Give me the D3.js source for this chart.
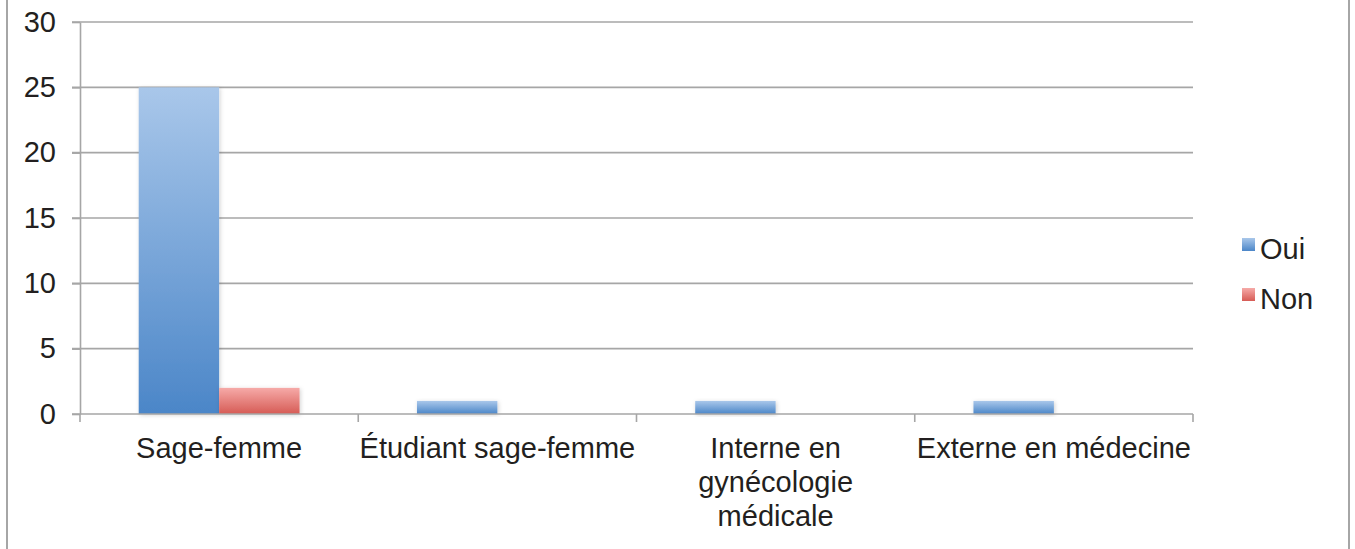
<!DOCTYPE html>
<html lang="fr">
<head>
  <meta charset="UTF-8">
  <title>Oui / Non par profession</title>
  <script src="https://d3js.org/d3.v7.min.js"></script>
  <style>
    body { margin: 0; background: #fff; }
    svg { font-family: "Liberation Sans", Arial, sans-serif; }
    .grid line { stroke: #a6a6a6; stroke-width: 1.6; }
    .axis path, .axis line { stroke: #a6a6a6; stroke-width: 1.6; }
    text { fill: #231f20; }
  </style>
</head>
<body>
  <svg width="1355" height="549"></svg>
  <script>
    const categories = ["Sage-femme", "Étudiant sage-femme", "Interne en\ngynécologie\nmédicale", "Externe en médecine"];
    const series = ["Oui", "Non"];
    const oui = [25, 1, 1, 1];
    const non = [2, 0, 0, 0];
    const yTicks = [0, 5, 10, 15, 20, 25, 30];

    const svg = d3.select("svg");
    const margin = { left: 80, right: 162, top: 22, bottom: 135 };
    const width = +svg.attr("width");
    const height = +svg.attr("height");
    const plotRight = width - margin.right;
    const plotBottom = height - margin.bottom;
    const fontSize = 29;

    const rows = categories.map((c, i) => ({ cat: c, values: [oui[i], non[i]] }));

    const x0 = d3.scaleBand().domain(categories).range([margin.left, plotRight]);
    const x1 = d3.scaleBand().domain(series).range([0, x0.bandwidth()]).paddingOuter(0.73);
    const y = d3.scaleLinear().domain([0, 30]).range([plotBottom, margin.top]);

    // frame side lines
    svg.append("line").attr("x1", 7).attr("x2", 7).attr("y1", 0).attr("y2", height)
      .attr("stroke", "#a6a6a6").attr("stroke-width", 2);
    svg.append("line").attr("x1", 1349).attr("x2", 1349).attr("y1", 0).attr("y2", height)
      .attr("stroke", "#a6a6a6").attr("stroke-width", 2);

    const defs = svg.append("defs");
    const grads = [["gOui", "#a9c7ea", "#4b86c8"], ["gNon", "#f6aaa8", "#d65b55"]];
    grads.forEach(([id, top, bot]) => {
      const g = defs.append("linearGradient").attr("id", id)
        .attr("x1", 0).attr("y1", 0).attr("x2", 0).attr("y2", 1);
      g.append("stop").attr("offset", "0%").attr("stop-color", top);
      g.append("stop").attr("offset", "100%").attr("stop-color", bot);
    });
    const shadow = defs.append("filter").attr("id", "shadow")
      .attr("x", "-20%").attr("y", "-20%").attr("width", "140%").attr("height", "140%");
    shadow.append("feDropShadow").attr("dx", 1).attr("dy", 1).attr("stdDeviation", 2)
      .attr("flood-color", "#000").attr("flood-opacity", 0.18);

    // gridlines with left tick stubs
    svg.append("g").attr("class", "grid")
      .selectAll("line").data(yTicks.filter(d => d > 0)).join("line")
      .attr("x1", margin.left - 8).attr("x2", plotRight)
      .attr("y1", d => y(d)).attr("y2", d => y(d));

    // y axis
    const yAxis = svg.append("g").attr("class", "axis")
      .attr("transform", `translate(${margin.left},0)`)
      .call(d3.axisLeft(y).tickValues(yTicks).tickSize(8).tickSizeOuter(0).tickPadding(16));
    yAxis.selectAll("text").attr("font-size", fontSize).style("fill", "#231f20");

    // bars
    const colors = { Oui: "url(#gOui)", Non: "url(#gNon)" };
    svg.append("g").selectAll("g").data(rows).join("g")
      .attr("transform", d => `translate(${x0(d.cat)},0)`)
      .selectAll("rect")
      .data(d => d.values.map((v, i) => ({ key: series[i], v })).filter(d => d.v > 0))
      .join("rect")
      .attr("x", d => x1(d.key))
      .attr("width", x1.bandwidth())
      .attr("y", d => y(d.v))
      .attr("height", d => y(0) - y(d.v))
      .attr("fill", d => colors[d.key])
      .attr("filter", "url(#shadow)");

    // x axis
    const boundaries = categories.map(c => x0(c)).concat([plotRight]);
    const xAxis = svg.append("g").attr("class", "axis");
    xAxis.append("line").attr("x1", margin.left - 8).attr("x2", plotRight)
      .attr("y1", y(0)).attr("y2", y(0));
    xAxis.selectAll(".tk").data(boundaries).join("line").attr("class", "tk")
      .attr("x1", d => d).attr("x2", d => d).attr("y1", y(0)).attr("y2", y(0) + 8);

    const labels = svg.append("g").selectAll("text").data(categories).join("text")
      .attr("x", d => x0(d) + x0.bandwidth() / 2)
      .attr("y", y(0) + 44)
      .attr("text-anchor", "middle")
      .attr("font-size", fontSize);
    labels.selectAll("tspan").data(d => d.split("\n")).join("tspan")
      .attr("x", function() { return this.parentNode.getAttribute("x"); })
      .attr("dy", (d, i) => i === 0 ? 0 : 34)
      .text(d => d);

    // legend
    const legend = svg.append("g").attr("transform", "translate(1242,238)");
    series.forEach((s, i) => {
      const g = legend.append("g").attr("transform", `translate(0,${i * 50})`);
      g.append("rect").attr("width", 13).attr("height", 13).attr("fill", colors[s]);
      g.append("text").attr("x", 18).attr("y", 21).attr("font-size", fontSize).text(s);
    });
  </script>
</body>
</html>
